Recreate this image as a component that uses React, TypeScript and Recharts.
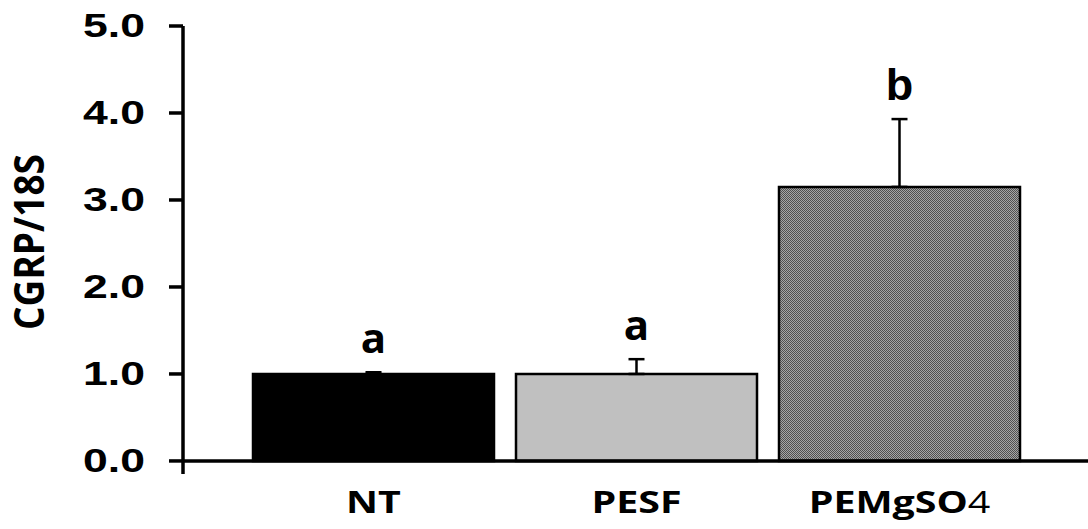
import { BarChart, Bar, XAxis, YAxis, ErrorBar, Cell, LabelList, ReferenceLine } from "recharts";

const groups = ["NT", "PESF", "PEMgSO4"];
const means = [1.0, 1.0, 3.15];
const sems = [0.02, 0.17, 0.78];
const letters = ["a", "a", "b"];
const yTicks = [0, 1, 2, 3, 4, 5];

const fills = ["#000000", "#c0c0c0", "url(#checker)"];

const data = groups.map((g, i) => ({ group: g, value: means[i], err: [0, sems[i]] }));

const labelFont = "'Open Sans', 'DejaVu Sans', sans-serif";
const numFont = "'Liberation Sans', Arial, sans-serif";

// horizontal stretch about an anchor point
const stretch = (x: number, y: number, s: number) => `translate(${x} ${y}) scale(${s} 1) translate(${-x} ${-y})`;

const GroupTick = ({ x, y, payload }: any) => {
  const v: string = payload.value;
  const m = v.match(/^(.*?)(\d+)$/);
  return (
    <text
      x={x}
      y={y + 31}
      transform={stretch(x, y, 1.27)}
      textAnchor="middle"
      fontFamily={labelFont}
      fontWeight={700}
      fontSize={31}
      fill="#000"
    >
      {m ? (
        <>
          {m[1]}
          <tspan fontWeight={400}>{m[2]}</tspan>
        </>
      ) : (
        v
      )}
    </text>
  );
};

const ValueTick = ({ x, y, payload }: any) => (
  <text
    x={x}
    y={y}
    dy={11}
    transform={stretch(x, y, 1.35)}
    textAnchor="end"
    fontFamily={numFont}
    fontWeight={700}
    fontSize={33}
    fill="#000"
  >
    {Number(payload.value).toFixed(1)}
  </text>
);

const AxisTitle = () => (
  <text
    transform="translate(28 242) scale(1.1 1) rotate(-90)"
    textAnchor="middle"
    dominantBaseline="central"
    fontFamily={labelFont}
    fontWeight={700}
    fontSize={37}
    fill="#000"
  >
    CGRP/18S
  </text>
);

// significance letter sits above the top of each error bar
const LetterLabel = ({ x, y, width, height, index }: any) => {
  const top = y - (sems[index] / means[index]) * height;
  const isB = letters[index] === "b";
  return (
    <text
      x={x + width / 2}
      y={top - 19}
      textAnchor="middle"
      fontFamily={isB ? numFont : labelFont}
      fontWeight={700}
      fontSize={isB ? 45 : 42}
      fill="#000"
    >
      {letters[index]}
    </text>
  );
};

export default function App() {
  return (
    <div style={{ position: "absolute", left: 0, top: 0, width: 1088, height: 529, background: "#fff" }}>
      <svg width={0} height={0} style={{ position: "absolute" }}>
        <defs>
          <pattern id="checker" width={2} height={2} patternUnits="userSpaceOnUse">
            <rect width={2} height={2} fill="#a6a6a6" />
            <rect x={0} y={0} width={1} height={1} fill="#505050" />
            <rect x={1} y={1} width={1} height={1} fill="#505050" />
          </pattern>
        </defs>
      </svg>
      <BarChart width={1088} height={529} data={data} margin={{ top: 26, right: 0, bottom: 0, left: 0 }} barSize={241}>
        <XAxis
          dataKey="group"
          height={55}
          padding={{ left: 59, right: 57 }}
          axisLine={false}
          tickLine={false}
          tick={<GroupTick />}
          interval={0}
        />
        <YAxis
          width={183}
          domain={[-0.15, 5]}
          ticks={yTicks}
          axisLine={{ stroke: "#000", strokeWidth: 3.5 }}
          tickLine={{ stroke: "#000", strokeWidth: 3.5 }}
          tickSize={14}
          tickMargin={24}
          tick={<ValueTick />}
          label={<AxisTitle />}
        />
        <ReferenceLine y={0} stroke="#000" strokeWidth={3.5} />
        <Bar dataKey="value" stroke="#000" strokeWidth={2.5} isAnimationActive={false}>
          {data.map((d, i) => (
            <Cell key={d.group} fill={fills[i]} />
          ))}
          <ErrorBar dataKey="err" direction="y" width={8} stroke="#000" strokeWidth={2.5} />
          <LabelList dataKey="value" content={<LetterLabel />} />
        </Bar>
      </BarChart>
    </div>
  );
}
